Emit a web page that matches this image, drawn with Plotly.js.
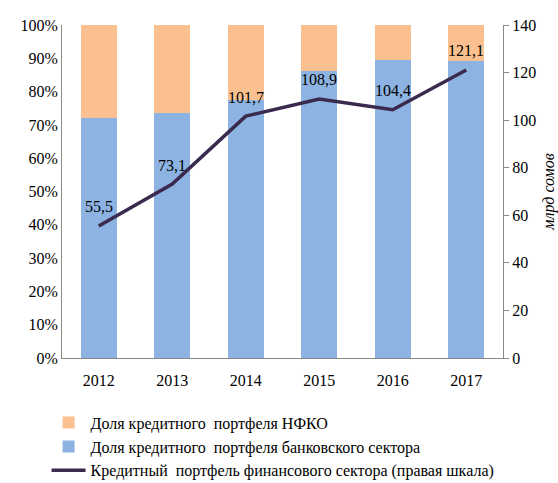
<!DOCTYPE html>
<html>
<head>
<meta charset="utf-8">
<script src="https://cdn.plot.ly/plotly-3.0.1.min.js"></script>
<style>body{margin:0;background:#fff}</style>
</head>
<body>
<div id="plot" style="width:558px;height:483px"></div>
<script>
// years on the category axis
var years = ['2012', '2013', '2014', '2015', '2016', '2017'];
// share of banking sector in credit portfolio, %
var bankShare = [72.0, 73.7, 77.6, 86.2, 89.6, 89.2];
// share of NFKO, %
var nfkoShare = [28.0, 26.3, 22.4, 13.8, 10.4, 10.8];
// financial sector credit portfolio, bn som (right axis)
var portfolio = [55.5, 73.1, 101.7, 108.9, 104.4, 121.1];
var portfolioLabels = ['55,5', '73,1', '101,7', '108,9', '104,4', '121,1'];

var bank = {
  x: years,
  y: bankShare.map(v => v / 100),
  name: 'Доля кредитного  портфеля банковского сектора',
  type: 'bar',
  marker: {color: '#8db3e2'},
  legendrank: 2,
  hoverinfo: 'none'
};

var nfko = {
  x: years,
  y: nfkoShare.map(v => v / 100),
  name: 'Доля кредитного  портфеля НФКО',
  type: 'bar',
  marker: {color: '#fac090'},
  legendrank: 1,
  hoverinfo: 'none'
};

var line = {
  x: years,
  y: portfolio,
  yaxis: 'y2',
  name: 'Кредитный  портфель финансового сектора (правая шкала)',
  type: 'scatter',
  mode: 'lines',
  line: {color: '#3a2a4e', width: 3.5},
  legendrank: 3,
  hoverinfo: 'none'
};

// value labels sit above the line points
var labels = years.map((yr, i) => ({
  x: yr,
  y: portfolio[i],
  xref: 'x',
  yref: 'y2',
  text: portfolioLabels[i],
  showarrow: false,
  yshift: 19,
  font: {size: 16, color: '#000'}
}));

var layout = {
  width: 558,
  height: 483,
  margin: {l: 62, r: 55, t: 25, b: 125},
  font: {family: 'Liberation Serif, Times New Roman, serif', size: 16, color: '#000'},
  barmode: 'stack',
  bargap: 0.51,
  showlegend: true,
  paper_bgcolor: '#fff',
  plot_bgcolor: '#fff',
  annotations: labels,
  xaxis: {
    showline: true,
    linecolor: '#898989',
    ticks: '',
    showgrid: false,
    automargin: false,
    tickfont: {size: 16},
    ticklabelstandoff: 8
  },
  yaxis: {
    range: [0, 1],
    dtick: 0.1,
    tickformat: '.0%',
    showline: true,
    linecolor: '#898989',
    showgrid: false,
    zeroline: false,
    ticks: '',
    automargin: false,
    tickfont: {size: 16}
  },
  yaxis2: {
    overlaying: 'y',
    side: 'right',
    range: [0, 140],
    dtick: 20,
    showline: true,
    linecolor: '#898989',
    ticks: 'outside',
    ticklen: 5,
    tickcolor: '#898989',
    showgrid: false,
    zeroline: false,
    automargin: false,
    tickfont: {size: 16},
    title: {text: 'млрд сомов', font: {size: 16, style: 'italic'}, standoff: 8}
  },
  legend: {
    x: -0.035,
    y: 0.16,
    yref: 'container',
    xanchor: 'left',
    yanchor: 'top',
    traceorder: 'normal',
    font: {size: 16},
    itemwidth: 34,
    tracegroupgap: 0
  }
};

Plotly.newPlot('plot', [bank, nfko, line], layout, {displayModeBar: false});
</script>
</body>
</html>
